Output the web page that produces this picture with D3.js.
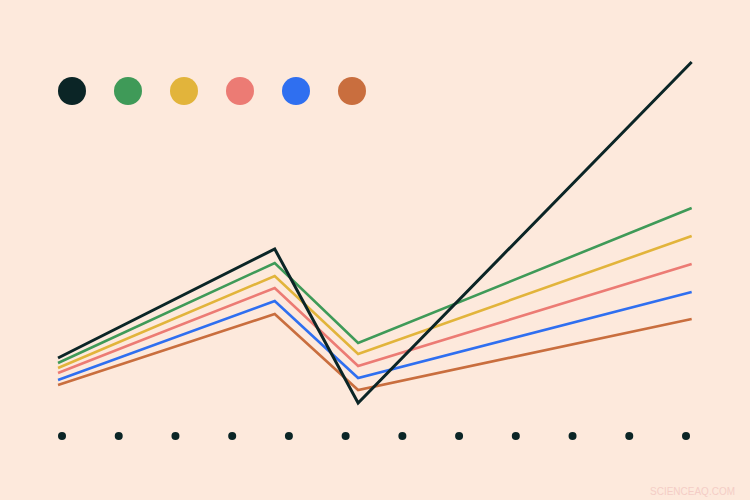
<!DOCTYPE html>
<html>
<head>
<meta charset="utf-8">
<script src="https://cdn.jsdelivr.net/npm/d3@7"></script>
<style>
  html, body { margin: 0; padding: 0; background: #fde9dc; }
  svg { display: block; }
</style>
</head>
<body>
<div class="graph"></div>
<script>
// series names and colours (legend order)
var names = ['black', 'green', 'yellow', 'pink', 'blue', 'brown']
var colors = ['#0b2526', '#3f9a58', '#e2b43b', '#ec7b74', '#2f6ff0', '#c96e3e']

// x positions of the line vertices, in tick units
var xs = [-0.07, 3.75, 5.22, 11.1]

// series values
var black = [78, 187, 33, 374]
var green = [73, 173, 93, 228]
var yellow = [68, 160, 82, 200]
var pink = [63, 148, 70, 172]
var blue = [56, 135, 58, 144]
var brown = [51, 122, 46, 117]

// bottom tick marks
var ticks = d3.range(12)

var width = 750,
    height = 500

var x = d3.scaleLinear()
    .domain([0, 11])
    .range([62, 686])

var y = d3.scaleLinear()
    .domain([0, 400])
    .range([436, 36])

var svg = d3.select('.graph').append('svg')
    .attr('width', width)
    .attr('height', height)

svg.append('rect')
    .attr('width', width)
    .attr('height', height)
    .attr('fill', '#fde9dc')

// legend dots
svg.append('g')
    .selectAll('circle')
    .data(names)
    .join('circle')
    .attr('cx', function(d, i) { return 72 + i * 56 })
    .attr('cy', 91)
    .attr('r', 14)
    .attr('fill', function(d, i) { return colors[i] })

var line = d3.line()
    .x(function(d, i) { return x(xs[i]) })
    .y(function(d) { return y(d) })

var series = [black, green, yellow, pink, blue, brown]

// draw coloured ones first, black on top
var order = [5, 4, 3, 2, 1, 0]
svg.append('g')
    .selectAll('path')
    .data(order)
    .join('path')
    .attr('d', function(i) { return line(series[i]) })
    .attr('fill', 'none')
    .attr('stroke', function(i) { return colors[i] })
    .attr('stroke-width', function(i) { return i === 0 ? 3 : 2.6 })
    .attr('stroke-linejoin', 'miter')

// tick dots along the bottom
svg.append('g')
    .selectAll('circle')
    .data(ticks)
    .join('circle')
    .attr('cx', function(d) { return x(d) })
    .attr('cy', y(0))
    .attr('r', 4)
    .attr('fill', '#0b2526')

svg.append('text')
    .attr('x', 735)
    .attr('y', 495)
    .attr('text-anchor', 'end')
    .attr('font-family', 'Liberation Sans, Arial, sans-serif')
    .attr('font-size', 10)
    .attr('fill', '#f4cdc6')
    .text('SCIENCEAQ.COM')
</script>
</body>
</html>
